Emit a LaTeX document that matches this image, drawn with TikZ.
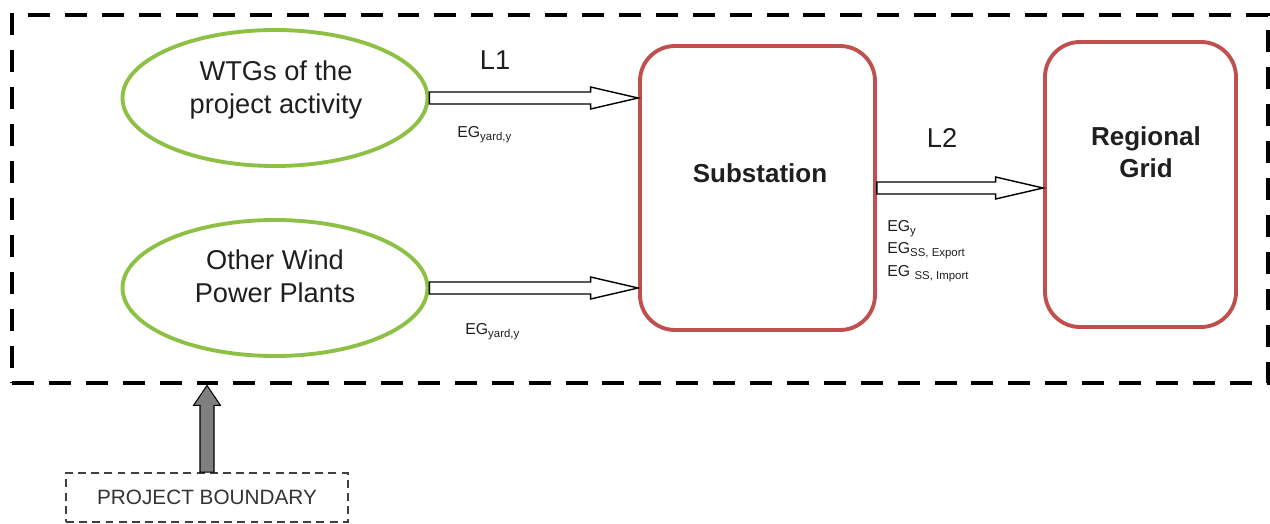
\documentclass[tikz,border=0pt]{standalone}
\usepackage{fontspec}
\setmainfont{Liberation Sans}
\usetikzlibrary{arrows.meta, positioning, calc, shapes.geometric}
\definecolor{plantgreen}{HTML}{8DC044}
\definecolor{stationred}{HTML}{C0504D}
\definecolor{textgray}{HTML}{1F1F1F}
\definecolor{pointergray}{HTML}{7F7F7F}
\newcommand{\lowtxt}[1]{\raisebox{-0.35ex}{\fontsize{6.5}{7}\selectfont #1}}

\begin{document}
\begin{tikzpicture}[
  plant/.style={draw=plantgreen, ellipse, line width=2.2pt, minimum width=6.1cm, minimum height=2.72cm, inner sep=0pt},
  station/.style={draw=stationred, rounded corners=0.7cm, line width=2.2pt, inner sep=0pt},
  big/.style={font=\fontsize{15.5}{18.6}\selectfont, text=textgray, align=center},
  bigbold/.style={font=\fontsize{14.8}{18}\selectfont\bfseries, text=textgray, align=center},
  small/.style={font=\fontsize{9}{12.8}\selectfont, text=textgray, align=left, inner sep=0pt},
  frame/.style={draw, line width=2.8pt, dash pattern=on 12.5pt off 8.5pt, inner sep=0pt},
  bound/.style={draw=black!75, line width=0.9pt, dash pattern=on 4.5pt off 3pt, minimum width=5.64cm, minimum height=0.98cm, font=\fontsize{11.8}{14}\selectfont, text=black!80},
  flow/.style={draw=black, fill=white, line width=0.8pt, to path={
    let \p1=(\tikztostart), \p2=(\tikztotarget) in
    (\x1,\y1+0.12cm) -- (\x2-0.95cm,\y1+0.12cm) -- (\x2-0.95cm,\y1+0.22cm) -- (\x2,\y1)
    -- (\x2-0.95cm,\y1-0.22cm) -- (\x2-0.95cm,\y1-0.12cm) -- (\x1,\y1-0.12cm) -- cycle}},
  pointer/.style={draw=black, fill=pointergray, line width=0.6pt, to path={
    let \p1=(\tikztostart), \p2=(\tikztotarget) in
    (\x1-0.14cm,\y1) -- (\x1-0.14cm,\y2-0.4cm) -- (\x1-0.27cm,\y2-0.4cm) -- (\x1,\y2)
    -- (\x1+0.27cm,\y2-0.4cm) -- (\x1+0.14cm,\y2-0.4cm) -- (\x1+0.14cm,\y1) -- cycle}}
]
  \useasboundingbox (0,0) rectangle (25.4,-10.48);

  % --- project boundary ---
  \node[frame, minimum width=25.12cm, minimum height=7.36cm] (frame) at (12.8,-3.98) {};
  \node[bound] (pb) at (4.14,-9.95) {PROJECT BOUNDARY};
  \draw[pointer] (pb.north) to (pb.north |- frame.south);

  % --- sources ---
  \node[plant] (wtg) at (5.5,-1.96) {};
  \node[big] (wtgtext) at (5.52,-1.8) {WTGs of the\\project activity};
  \node[plant] (other) at (5.5,-5.76) {};
  \node[big] (othertext) at (5.5,-5.52) {Other Wind\\Power Plants};

  % --- substation and grid ---
  \node[station, minimum width=4.7cm, minimum height=5.68cm] (sub) at (15.15,-3.76) {};
  \node[bigbold] (subtext) at (15.2,-3.46) {Substation};
  \node[station, minimum width=3.82cm, minimum height=5.7cm] (grid) at (22.81,-3.69) {};
  \node[bigbold] (gridtext) at (22.92,-3.04) {Regional\\Grid};

  % --- energy flows ---
  \draw[flow] (wtg.east) to (wtg.east -| sub.west);
  \draw[flow] (other.east) to (other.east -| sub.west);
  \draw[flow] (sub.east) to (sub.east -| grid.west);

  % Labels
  \node[big] (l1) at (9.9,-1.2) {L1};
  \node[big] (l2) at (18.84,-2.76) {L2};
  \node[small, anchor=west] (egwtg) at (9.14,-2.7) {EG\lowtxt{yard,y}};
  \node[small, anchor=west] (egother) at (9.3,-6.64) {EG\lowtxt{yard,y}};
  \node[small, anchor=west] (egss) at (17.74,-5.02)
    {EG\lowtxt{y}\\EG\lowtxt{SS, Export}\\EG \lowtxt{SS, Import}};
\end{tikzpicture}
\end{document}
